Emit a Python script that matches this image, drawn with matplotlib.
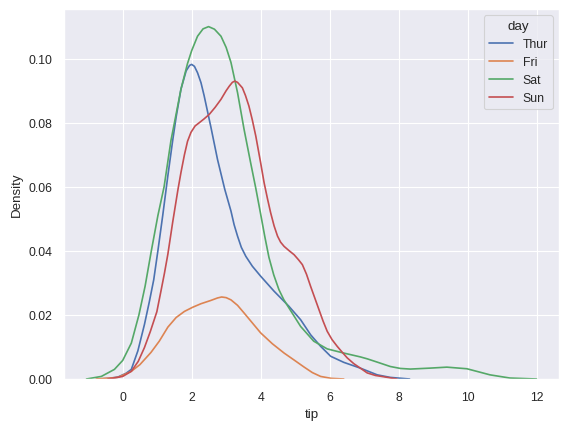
import matplotlib
matplotlib.use("Agg")
import matplotlib.pyplot as plt
import seaborn as sns

# KDE curves of tip by day
days = ["Thur", "Fri", "Sat", "Sun"]

thur_x = [-0.72, -0.40, -0.14, 0.10, 0.25, 0.44, 0.63, 0.77, 0.90, 1.02, 1.16, 1.31, 1.45, 1.55,
          1.69, 1.84, 1.94, 2.00, 2.08, 2.17, 2.27, 2.36, 2.56, 2.75, 2.96, 3.14, 3.23, 3.33, 3.44,
          3.57, 3.76, 4.00, 4.39, 4.82, 5.16, 5.45, 5.74, 6.03, 6.41, 6.89, 7.38, 7.76, 8.32]
thur_y = [0.0, 0.0002, 0.0006, 0.0018, 0.003, 0.0088, 0.017, 0.024, 0.031, 0.040, 0.051, 0.0635,
          0.0745, 0.0818, 0.0905, 0.0962, 0.0979, 0.0982, 0.0976, 0.0956, 0.0925, 0.0885, 0.0785,
          0.0685, 0.0592, 0.0524, 0.0482, 0.0446, 0.0411, 0.0383, 0.0352, 0.0321, 0.0274, 0.0227,
          0.0185, 0.0138, 0.0102, 0.0071, 0.0052, 0.0034, 0.0013, 0.0005, 0.0]

fri_x = [-0.77, -0.14, 0.25, 0.50, 0.82, 1.06, 1.31, 1.55, 1.79, 2.03, 2.27, 2.55, 2.75, 2.87,
         3.00, 3.14, 3.33, 3.52, 3.76, 4.00, 4.34, 4.68, 5.00, 5.25, 5.50, 5.74, 6.05, 6.41]
fri_y = [0.0, 0.0005, 0.0024, 0.0045, 0.0083, 0.0118, 0.0162, 0.0192, 0.0211, 0.0224, 0.0235,
         0.0245, 0.0253, 0.0256, 0.0254, 0.0247, 0.0230, 0.0206, 0.0175, 0.0144, 0.0110, 0.0081,
         0.0057, 0.0038, 0.0020, 0.0008, 0.0002, 0.0]

sat_x = [-1.05, -0.62, -0.24, 0.0, 0.25, 0.47, 0.65, 0.83, 1.02, 1.20, 1.40, 1.50, 1.69, 1.88,
         2.00, 2.17, 2.33, 2.49, 2.66, 2.85, 3.00, 3.14, 3.33, 3.52, 3.71, 3.86, 4.00, 4.12, 4.24,
         4.38, 4.53, 4.67, 4.82, 5.16, 5.54, 5.93, 6.41, 6.89, 7.09, 7.40, 7.76, 8.05, 8.34, 8.92,
         9.40, 9.98, 10.30, 10.65, 11.23, 12.0]
sat_y = [0.0, 0.0008, 0.003, 0.0058, 0.0112, 0.020, 0.029, 0.040, 0.051, 0.060, 0.0745, 0.080,
         0.0905, 0.0985, 0.1025, 0.107, 0.1093, 0.110, 0.1092, 0.107, 0.1035, 0.0988, 0.0894,
         0.0779, 0.0675, 0.0595, 0.0515, 0.0445, 0.038, 0.0325, 0.0279, 0.0248, 0.0222, 0.0164,
         0.0118, 0.0094, 0.0081, 0.0069, 0.0063, 0.0052, 0.0039, 0.0033, 0.0031, 0.0034, 0.0037,
         0.0032, 0.0023, 0.0013, 0.0003, 0.0]

sun_x = [-0.43, 0.0, 0.25, 0.45, 0.63, 0.80, 0.99, 1.11, 1.21, 1.31, 1.45, 1.60, 1.69, 1.79, 1.88,
         1.98, 2.10, 2.22, 2.36, 2.51, 2.68, 2.85, 3.00, 3.09, 3.18, 3.25, 3.33, 3.47, 3.56, 3.66,
         3.76, 3.86, 4.00, 4.10, 4.20, 4.29, 4.39, 4.49, 4.58, 4.68, 4.82, 4.97, 5.10, 5.21, 5.33,
         5.45, 5.57, 5.69, 5.81, 5.93, 6.07, 6.22, 6.37, 6.51, 6.70, 6.89, 7.09, 7.33, 7.57, 7.95]
sun_y = [0.0, 0.0008, 0.0024, 0.0055, 0.0098, 0.0148, 0.021, 0.0275, 0.033, 0.039, 0.049, 0.059,
         0.0645, 0.0700, 0.0742, 0.0770, 0.0790, 0.080, 0.0812, 0.0826, 0.0848, 0.0873, 0.0900,
         0.0914, 0.0926, 0.093, 0.0926, 0.0909, 0.0885, 0.0852, 0.0808, 0.0758, 0.0675, 0.0613,
         0.0562, 0.0519, 0.0478, 0.0446, 0.0427, 0.0414, 0.0401, 0.0388, 0.0372, 0.0357, 0.0327,
         0.0289, 0.0253, 0.0217, 0.0181, 0.0149, 0.0123, 0.0102, 0.0083, 0.0066, 0.0048, 0.0034,
         0.0019, 0.0011, 0.0007, 0.0]

curves = [(thur_x, thur_y), (fri_x, fri_y), (sat_x, sat_y), (sun_x, sun_y)]

sns.set_theme(context="paper", style="darkgrid")
plt.rcParams["font.family"] = ["Liberation Sans", "DejaVu Sans"]
colors = sns.color_palette("deep", 4)

fig = plt.figure(figsize=(5.69, 4.31), dpi=100)
ax = fig.add_axes([64 / 569, 51 / 431, 495 / 569, 370 / 431])

for (xs, ys), day, c in zip(curves, days, colors):
    ax.plot(xs, ys, color=c, lw=1.2, label=day)

ax.set_ylim(bottom=0)
ax.set_xticks([0, 2, 4, 6, 8, 10, 12])
ax.set_yticks([0.0, 0.02, 0.04, 0.06, 0.08, 0.10])
ax.set_xlabel("tip")
ax.set_ylabel("Density")
ax.legend(title="day", loc="upper right")

fig.savefig("out.png", dpi=100)
